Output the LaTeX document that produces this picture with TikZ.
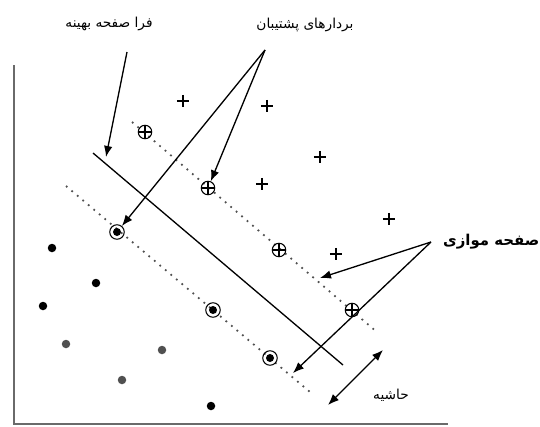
\documentclass[tikz,border=0pt]{standalone}
\usepackage{fontspec}
\newfontfamily\arabicfont[Script=Arabic]{DejaVu Sans}
\TeXXeTstate=1
\usetikzlibrary{positioning,arrows.meta,calc}
\usepackage{xcolor}
\definecolor{AxisGrey}{HTML}{6A6A6A}
\definecolor{DotGrey}{HTML}{505050}

\begin{document}
\begin{tikzpicture}[
	x=0.02cm, y=-0.02cm,
	lbl/.style={
		font=\arabicfont\fontsize{7.8}{9}\selectfont,
		inner sep=1pt
	},
	arr/.style={
		-{Latex[length=2.2mm,width=1.7mm]},
		draw=black,
		line width=0.75pt
	},
	plane/.style={
		draw=black,
		line width=0.75pt
	},
	margin/.style={
		draw=DotGrey,
		line width=1pt,
		dash pattern=on 1pt off 3.1pt
	},
	plus/.style={
		inner sep=0pt,
		minimum size=0.25cm,
		path picture={
			\draw[line width=0.7pt]
			(path picture bounding box.north) -- (path picture bounding box.south)
			(path picture bounding box.west) -- (path picture bounding box.east);
		}
	},
	oplus/.style={
		plus,
		circle,
		draw,
		line width=0.6pt,
		minimum size=0.27cm
	},
	odot/.style={
		circle,
		draw,
		line width=0.6pt,
		inner sep=0pt,
		minimum size=0.29cm,
		path picture={
			\fill (path picture bounding box.center) circle[radius=0.08cm];
		}
	},
	pt/.style={
		circle,
		fill=black,
		inner sep=0pt,
		minimum size=0.17cm
	}
	]
	
	\useasboundingbox (0,0) rectangle (540,426);
	
	% axes
	\coordinate (ytop) at (14,65);
	\coordinate (orig) at (14,424);
	\coordinate (xend) at (448,424);
	\draw[AxisGrey, line width=1pt] (ytop) -- (orig) -- (xend);
	
	% planes
	\coordinate (h1) at (93,153);
	\coordinate (h2) at (343,365);
	\coordinate (u1) at (132,122);
	\coordinate (u2) at (378,333);
	\coordinate (l1) at (66,186);
	\coordinate (l2) at (310,392);
	\draw[plane] (h1) -- (h2);
	\draw[margin] (u1) -- (u2);
	\draw[margin] (l1) -- (l2);
	
	% positive class
	\node[plus] (p1) at (183,101) {};
	\node[plus] (p2) at (267,106) {};
	\node[plus] (p3) at (320,157) {};
	\node[plus] (p4) at (262,184) {};
	\node[plus] (p5) at (389,219) {};
	\node[plus] (p6) at (336,254) {};
	
	\node[oplus] (pv1) at (145,132) {};
	\node[oplus] (pv2) at (208,188) {};
	\node[oplus] (pv3) at (279,250) {};
	\node[oplus] (pv4) at (352,310) {};
	
	% negative class
	\node[pt] (n1) at (52,248) {};
	\node[pt] (n2) at (96,283) {};
	\node[pt] (n3) at (43,306) {};
	\node[pt, fill=DotGrey] (n4) at (66,344) {};
	\node[pt, fill=DotGrey] (n5) at (162,350) {};
	\node[pt, fill=DotGrey] (n6) at (122,380) {};
	\node[pt] (n7) at (211,406) {};
	
	\node[odot] (sv1) at (117,232) {};
	\node[odot] (sv2) at (213,310) {};
	\node[odot] (sv3) at (270,358) {};
	
	% labels
	\node[lbl] (hyp) at (109,24) {\beginR فرا صفحه بهینه\endR};
	\node[lbl] (svs) at (305,25) {\beginR بردارهای پشتیبان\endR};
	\node[
	lbl,
	font=\arabicfont\bfseries\fontsize{8.5}{10}\selectfont,
	anchor=west
	] (par) at (441,242) {\beginR صفحه موازی\endR};
	\node[lbl] (mrg) at (391,395) {\beginR حاشیه\endR};
	
	% arrows
	\coordinate (hypA) at (127,52);
	\coordinate (hypB) at (106,157);
	\coordinate (svsA) at (265,50);
	\coordinate (parA) at (431,242);
	\coordinate (parU) at (320,278);
	\coordinate (parL) at (293,373);
	\coordinate (mrgA) at (328,405);
	\coordinate (mrgB) at (383,350);
	
	\draw[arr] (hypA) -- (hypB);
	\draw[arr] (svsA) -- (sv1);
	\draw[arr] (svsA) -- (pv2);
	\draw[arr] (parA) -- (parU);
	\draw[arr] (parA) -- (parL);
	\draw[arr, {Latex[length=2.2mm,width=1.7mm]}-{Latex[length=2.2mm,width=1.7mm]}] (mrgA) -- (mrgB);
	
\end{tikzpicture}
\end{document}
